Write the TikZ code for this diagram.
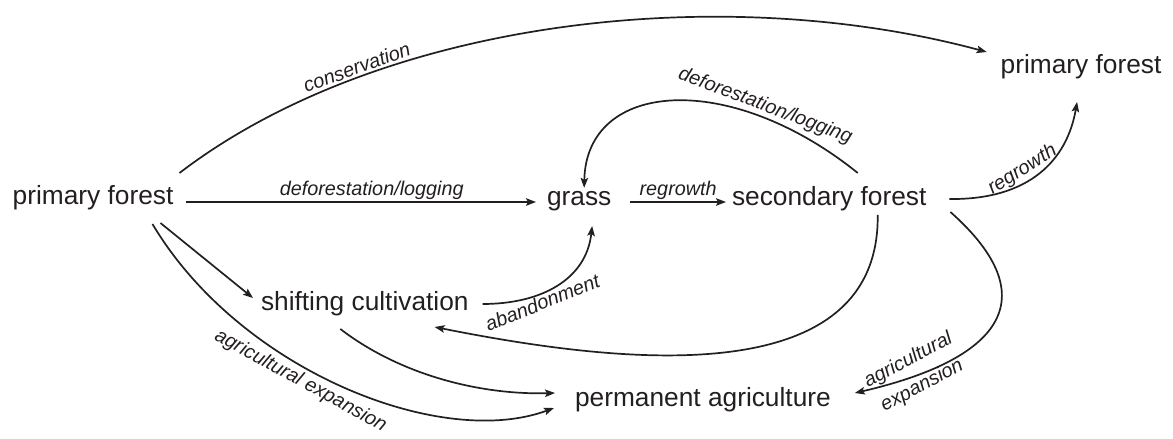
\documentclass[tikz,border=0pt]{standalone}
\usepackage{fontspec}
\setmainfont{Liberation Sans}
\usetikzlibrary{arrows.meta}
\definecolor{ink}{HTML}{231F20}
\begin{document}
\begin{tikzpicture}[x=1pt,y=-1pt,
  box/.style={inner sep=0pt, outer sep=0pt, text=ink, font=\fontsize{26.3}{30}\selectfont, anchor=base west},
  lab/.style={font=\fontsize{19.8}{23}\selectfont\itshape, text=ink, inner sep=2pt},
  conn/.style={draw=ink, line width=1.7pt, -{Stealth[length=10pt,width=7.5pt,inset=2pt]}},
]
\useasboundingbox (0,0) rectangle (1173,439);
% nodes
\node[box] (pfL) at (12.7,204) {primary forest};
\node[box] (grass) at (547,205) {grass};
\node[box] (sf) at (732,205) {secondary forest};
\node[box] (pfR) at (1000.7,73) {primary forest};
\node[box] (sc) at (261,310) {shifting cultivation};
\node[box] (pa) at (575,406) {permanent agriculture};
% straight arrows
\draw[conn] ([xshift=13pt,yshift=2pt]pfL.base east) -- ([xshift=-11pt,yshift=3pt]grass.base west)
  node[lab, pos=0.53, above] {deforestation/logging};
\draw[conn] ([xshift=19pt,yshift=3pt]grass.base east) -- ([xshift=-6pt,yshift=3pt]sf.base west)
  node[lab, pos=0.5, above] {regrowth};
% conservation
\draw[conn] ([xshift=6pt,yshift=31pt]pfL.base east) .. controls +(200,-153) and +(-267,-72) ..
  ([xshift=-14pt,yshift=21pt]pfR.base west)
  node[lab, pos=0.26, sloped, above] {conservation};
% secondary forest -> grass
\draw[conn] ([xshift=28.5pt,yshift=13pt]sf.north) .. controls +(-128,-103) and +(2,-108) ..
  ([xshift=5pt,yshift=3pt]grass.north)
  node[lab, pos=0.25, sloped, above, inner sep=1pt] {deforestation/logging};
% secondary forest -> primary forest (regrowth)
\draw[conn] ([xshift=23pt,yshift=6pt]sf.base east) .. controls +(80,1) and +(-10,58) ..
  ([xshift=-4pt,yshift=-23.5pt]pfR.south)
  node[lab, pos=0.42, sloped, above] {regrowth};
% primary forest -> shifting cultivation
\draw[conn] ([xshift=-13pt,yshift=-19pt]pfL.base east) -- ([xshift=-8pt,yshift=12pt]sc.base west);
% primary forest -> permanent agriculture
\draw[conn] ([xshift=-21pt,yshift=-20pt]pfL.base east) .. controls +(87,146) and +(-114,42) ..
  ([xshift=-21pt,yshift=-2pt]pa.base west)
  node[lab, pos=0.42, sloped, below, inner sep=4pt] {agricultural expansion};
% shifting cultivation -> permanent agriculture
\draw[conn] ([xshift=-24.5pt,yshift=-13.5pt]sc.south) .. controls +(60,46) and +(-75,2) ..
  ([xshift=-20pt,yshift=13pt]pa.base west);
% shifting cultivation -> grass (abandonment)
\draw[conn] ([xshift=14pt,yshift=6pt]sc.base east) .. controls +(58,0) and +(-6,54) ..
  ([xshift=13pt,yshift=-15.5pt]grass.south)
  node[lab, pos=0.36, sloped, below, inner sep=0.5pt] {abandonment};
% secondary forest -> shifting cultivation
\draw[conn] ([xshift=48.5pt,yshift=-4.5pt]sf.south) .. controls +(2,185) and +(166,33) ..
  ([xshift=-34pt,yshift=-17pt]sc.base east);
% secondary forest -> permanent agriculture
\draw[conn] ([xshift=24pt,yshift=-7pt]sf.base east) .. controls +(99,88) and +(143,-33) ..
  ([xshift=24pt,yshift=13pt]pa.base east)
  node[lab, pos=0.84, rotate=28, yshift=2pt, align=center, inner sep=0pt,
       font=\fontsize{19.8}{29}\selectfont\itshape] {agricultural\\expansion};
\end{tikzpicture}
\end{document}
